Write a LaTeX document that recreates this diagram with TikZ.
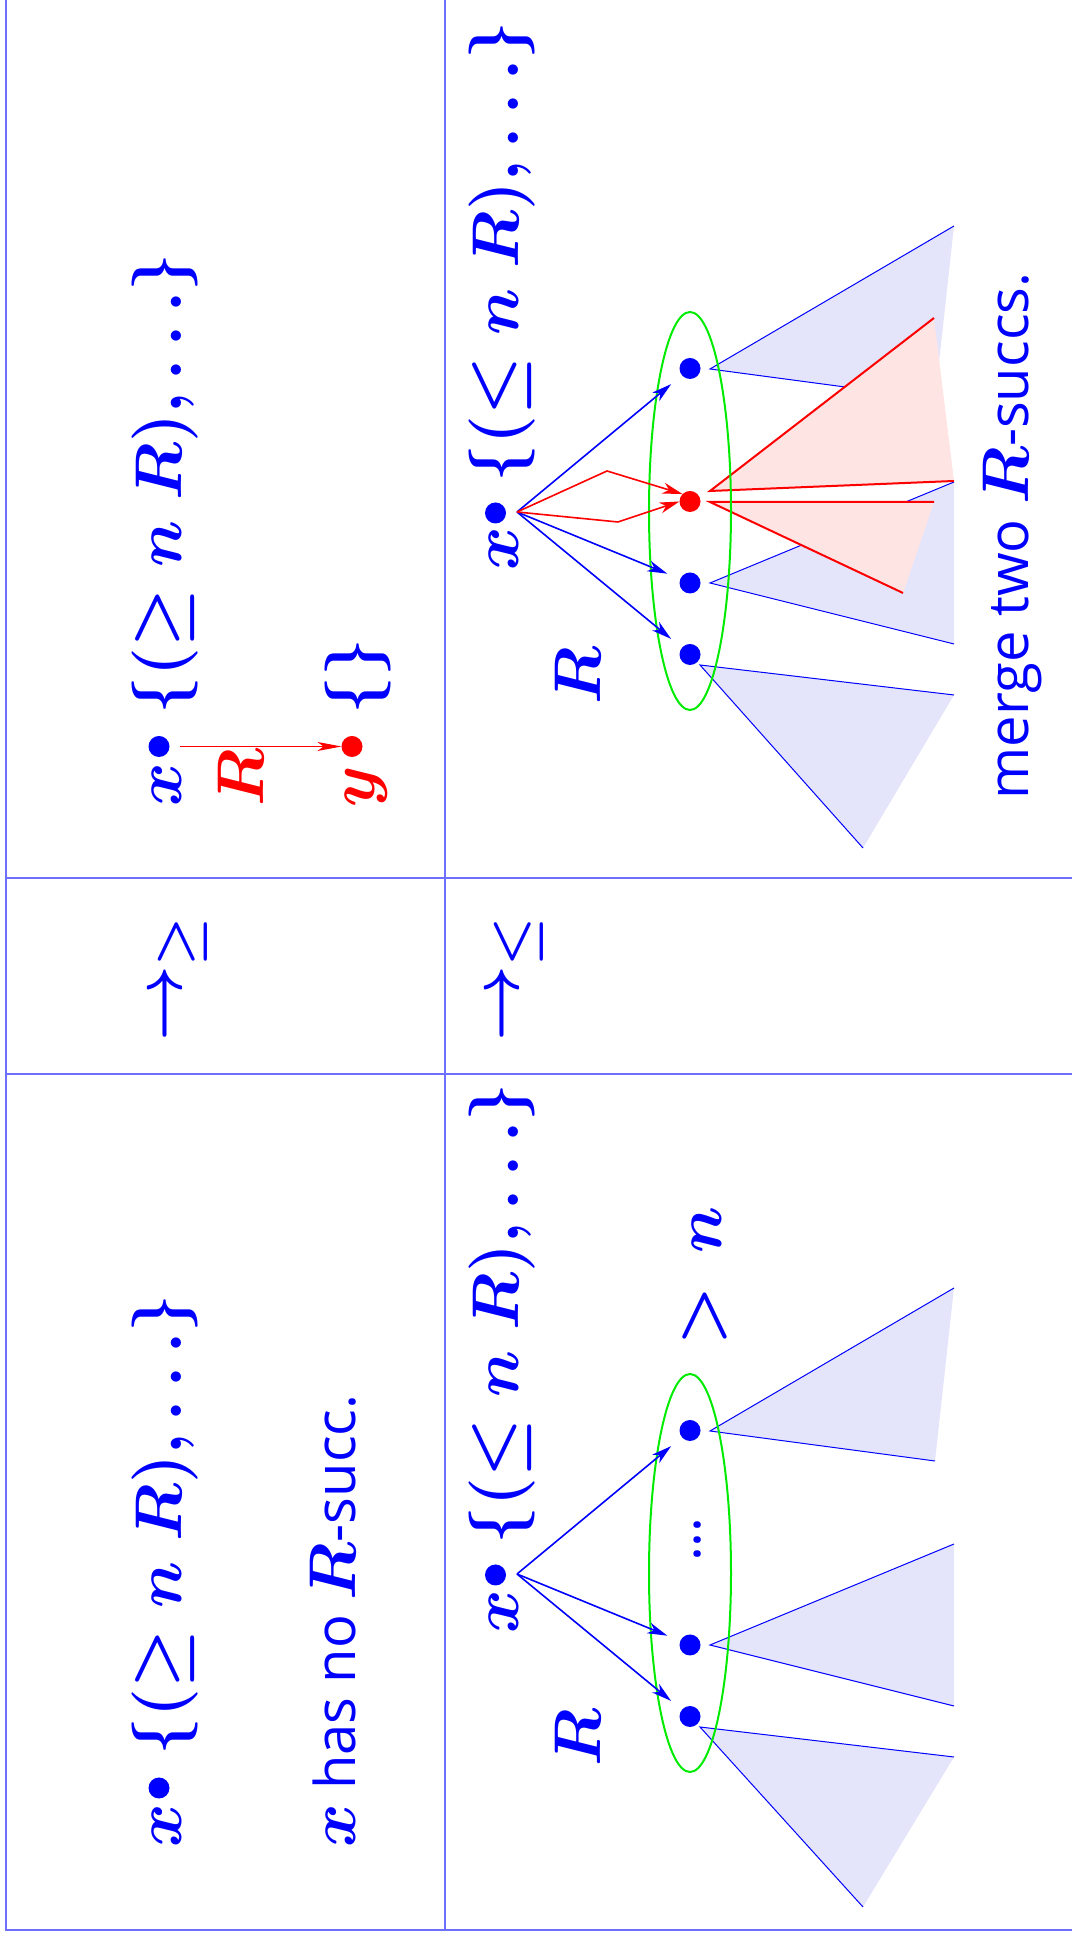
\RequirePackage{fix-cm}
\documentclass[tikz,border=0pt]{standalone}
\usepackage{fontspec}
\newfontfamily\sansf[Scale=0.85]{Open Sans}
\usetikzlibrary{arrows.meta}
\DeclareMathSizes{33}{33}{27.5}{22}
\definecolor{framec}{RGB}{110,110,255}
\definecolor{trifill}{RGB}{228,228,250}
\definecolor{pinkfill}{RGB}{255,228,228}
\definecolor{grn}{RGB}{0,235,0}
\tikzset{
  txt/.style={inner sep=0pt, outer sep=0pt, anchor=base west, text=blue,
    font=\fontsize{33}{40}\selectfont\boldmath},
  bul/.style={circle, fill=blue, inner sep=0pt, outer sep=0pt, minimum size=10.5pt},
  framel/.style={draw=framec, line width=1pt},
  barrow/.style={draw=blue, line width=0.8pt,
    -{Stealth[length=10pt,width=5.5pt,inset=3pt]}, shorten >=7pt},
  rarrow/.style={draw=red, line width=0.8pt,
    -{Stealth[length=10pt,width=5.5pt,inset=3pt]}},
  tricol/.style={fill=trifill},
  triedge/.style={draw=blue, line width=0.5pt},
  pinkcol/.style={fill=pinkfill},
  redge/.style={draw=red, line width=1pt},
  ell/.style={draw=grn, line width=1pt}
}
\begin{document}
\begin{tikzpicture}[x=0.5pt,y=-0.5pt,rotate=90,transform shape]
\useasboundingbox (0,0) rectangle (1939,1072);

% ---------- frame ----------
\draw[framel] (1939,6) -- (9,6) -- (9,1072);
\draw[framel] (9,445) -- (1939,445);
\draw[framel] (865,6) -- (865,1072);
\draw[framel] (1061,6) -- (1061,1072);

% ---------- row 1, left cell ----------
\node[txt] (l1x) at (91,181.5) {$x$};
\node[bul] (l1b) at (151,159) {};
\node[txt] (l1set) at (183.5,181.5) {$\{(\geq n\ R),\ldots\}$};
\node[txt] (l1txt) at (91,355) {\sansf $x$ has no $R$-succ.};

% ---------- middle column ----------
\node[txt] (ar1) at (897,181.5) {$\rightarrow_{\geq}$};
\node[txt] (ar2) at (897,518) {$\rightarrow_{\leq}$};

% ---------- row 1, right cell ----------
\node[txt] (r1x) at (1132,181.5) {$x$};
\node[bul] (r1b) at (1192.5,159) {};
\node[txt] (r1set) at (1224.5,181.5) {$\{(\geq n\ R),\ldots\}$};
\node[txt,text=red] (r1y) at (1131,374) {$y$};
\node[bul,fill=red] (r1yb) at (1192.5,352) {};
\node[txt] (r1e) at (1224.5,374) {$\{\}$};
\node[txt,text=red] (r1R) at (1132,263) {$R$};
\draw[draw=red, line width=0.6pt, -{Stealth[length=12pt,width=4.5pt,inset=3pt]},
  shorten <=5pt] (r1b) -- (r1yb);

% ---------- row 2, left cell ----------
\fill[tricol] (508,710) -- (651,954) -- (478,935) -- cycle;
\draw[triedge] (651,954) -- (508,710) -- (478,935);
\fill[tricol] (294,710) -- (395,954) -- (233,954) -- cycle;
\draw[triedge] (395,954) -- (294,710) -- (233,954);
\fill[tricol] (212,700) -- (182,954) -- (32,863) -- cycle;
\draw[triedge] (182,954) -- (212,700) -- (32,863);
\draw[ell] (366,690) ellipse [x radius=199, y radius=41];

\node[txt] (l2x) at (305,518) {$x$};
\node[bul] (l2b) at (364,495.5) {};
\node[txt] (l2set) at (394.5,518) {$\{(\leq n\ R),\ldots\}$};
\node[txt] (l2R) at (172,600) {$R$};
\node[txt] (l2gt) at (593,721) {$>\,n$};
\coordinate (l2t) at (365,517);
\node[bul] (ln1) at (508.5,690) {};
\node[bul] (ln2) at (294,690) {};
\node[bul] (ln3) at (222.5,690) {};
\node[txt, font=\sansf\fontsize{33}{40}\selectfont] (ldots) at (377,700) {...};
\draw[barrow] (l2t) -- (ln1);
\draw[barrow] (l2t) -- (ln2);
\draw[barrow] (l2t) -- (ln3);

% ---------- row 2, right cell ----------
\fill[tricol] (1570,710) -- (1713,954) -- (1540,935) -- cycle;
\draw[triedge] (1713,954) -- (1570,710) -- (1540,935);
\fill[tricol] (1356,710) -- (1457,954) -- (1295,954) -- cycle;
\draw[triedge] (1457,954) -- (1356,710) -- (1295,954);
\fill[tricol] (1274,700) -- (1244,954) -- (1091,863) -- cycle;
\draw[triedge] (1244,954) -- (1274,700) -- (1091,863);
\fill[pinkcol] (1448,710) -- (1621,934) -- (1458,954) -- cycle;
\draw[redge] (1621,934) -- (1448,710) -- (1458,954);
\fill[pinkcol] (1437,710) -- (1437,934) -- (1346,903) -- cycle;
\draw[redge] (1437,934) -- (1437,710) -- (1346,903);
\draw[ell] (1428,690) ellipse [x radius=199, y radius=41];

\node[txt] (r2x) at (1368,518) {$x$};
\node[bul] (r2b) at (1426,495.5) {};
\node[txt] (r2set) at (1456.5,518) {$\{(\leq n\ R),\ldots\}$};
\node[txt] (r2R) at (1234,600) {$R$};
\coordinate (r2t) at (1427,517);
\node[bul] (rn1) at (1570.5,690) {};
\node[bul,fill=red] (rnr) at (1437.5,690) {};
\node[bul] (rn3) at (1356,690) {};
\node[bul] (rn4) at (1284.5,690) {};
\coordinate (rk1) at (1468,607);
\coordinate (rk2) at (1417,618);
\draw[barrow] (r2t) -- (rn1);
\draw[barrow] (r2t) -- (rn3);
\draw[barrow] (r2t) -- (rn4);
\draw[rarrow] (r2t) -- (rk1) -- (rnr.north east);
\draw[rarrow] (r2t) -- (rk2) -- (rnr.north);
\node[txt] (merge) at (1139.5,1028) {\sansf merge two $R$-succs.};

\end{tikzpicture}
\end{document}
